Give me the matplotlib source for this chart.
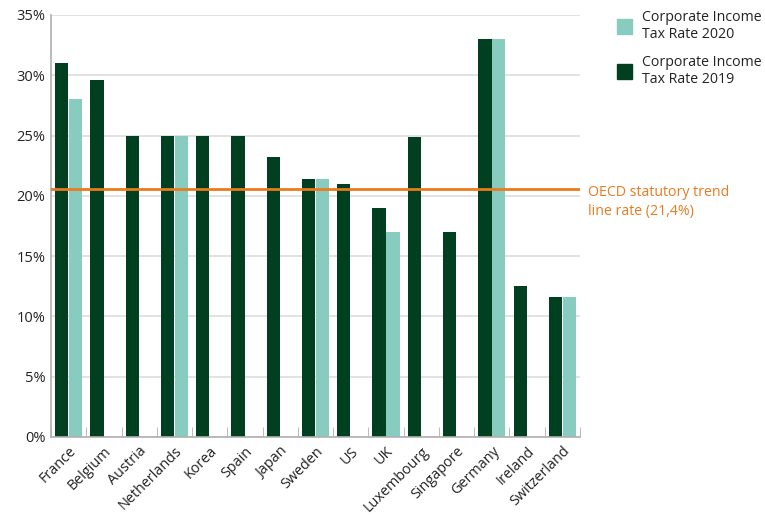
import numpy as np
import matplotlib
matplotlib.use("Agg")
from matplotlib import pyplot as plt
from matplotlib.patches import Patch

countries = ["France", "Belgium", "Austria", "Netherlands", "Korea", "Spain", "Japan",
             "Sweden", "US", "UK", "Luxembourg", "Singapore", "Germany", "Ireland",
             "Switzerland"]
rate_2019 = [31.0, 29.6, 25.0, 25.0, 25.0, 25.0, 23.2, 21.4, 21.0, 19.0, 24.9, 17.0,
             33.0, 12.5, 11.6]
rate_2020 = [28.0, np.nan, np.nan, 25.0, np.nan, np.nan, np.nan, 21.4, np.nan, 17.0,
             np.nan, np.nan, 33.0, np.nan, 11.6]
oecd_trend = 20.6
yticks = [0, 5, 10, 15, 20, 25, 30, 35]

dark_green = "#003f1f"
light_teal = "#88cbbf"
orange = "#ea7a1e"
grey_text = "#222222"

plt.rcParams["font.family"] = ["Open Sans", "DejaVu Sans"]

fig = plt.figure(figsize=(7.65, 5.17), dpi=100)
ax = fig.add_axes([0.0667, 0.155, 0.6915, 0.816])

x = np.arange(len(countries))
w = 0.375
ax.bar(x - w / 2 - 0.01, rate_2019, width=w, color=dark_green, zorder=2)
ax.bar(x + w / 2 + 0.01, rate_2020, width=w, color=light_teal, zorder=2)

# trend line
ax.axhline(oecd_trend, color=orange, linewidth=2, zorder=3)
ax.text(len(countries) - 0.5 + 0.22, oecd_trend + 0.3, "OECD statutory trend\nline rate (21,4%)",
        color=orange, fontsize=10.2, va="top", ha="left", linespacing=1.4,
        transform=ax.transData, clip_on=False)

ax.set_xlim(-0.5, len(countries) - 0.5)
ax.set_ylim(0, 35)
ax.set_yticks(yticks)
ax.set_yticklabels([f"{t}%" for t in yticks], fontsize=10.5, color=grey_text)
ax.set_xticks(x)
ax.set_xticklabels(countries, rotation=45, ha="right", rotation_mode="anchor",
                   fontsize=10.4, color=grey_text)
ax.tick_params(axis="x", length=0, pad=5)
ax.tick_params(axis="y", length=0, pad=4)
# category boundary ticks
ax.set_xticks(np.arange(-0.5, len(countries)), minor=True)
ax.tick_params(axis="x", which="minor", direction="in", length=7, color="#b0b0b0")

ax.grid(axis="y", color="#dddddd", linewidth=1.2, zorder=0)
ax.set_axisbelow(True)
for s in ["top", "right"]:
    ax.spines[s].set_visible(False)
ax.spines["left"].set_color("#b0b0b0")
ax.spines["bottom"].set_color("#b0b0b0")
ax.spines["left"].set_linewidth(1.2)
ax.spines["bottom"].set_linewidth(1.2)

handles = [Patch(color=light_teal, label="Corporate Income\nTax Rate 2020"),
           Patch(color=dark_green, label="Corporate Income\nTax Rate 2019")]
leg = fig.legend(handles=handles, loc="upper left", bbox_to_anchor=(0.793, 1.0),
                 frameon=False, fontsize=10.2, handlelength=1.1, handleheight=1.3,
                 handletextpad=0.7, labelspacing=0.9, borderaxespad=0.3)
for t in leg.get_texts():
    t.set_color(grey_text)

fig.savefig("out.png", dpi=100, facecolor="white")
